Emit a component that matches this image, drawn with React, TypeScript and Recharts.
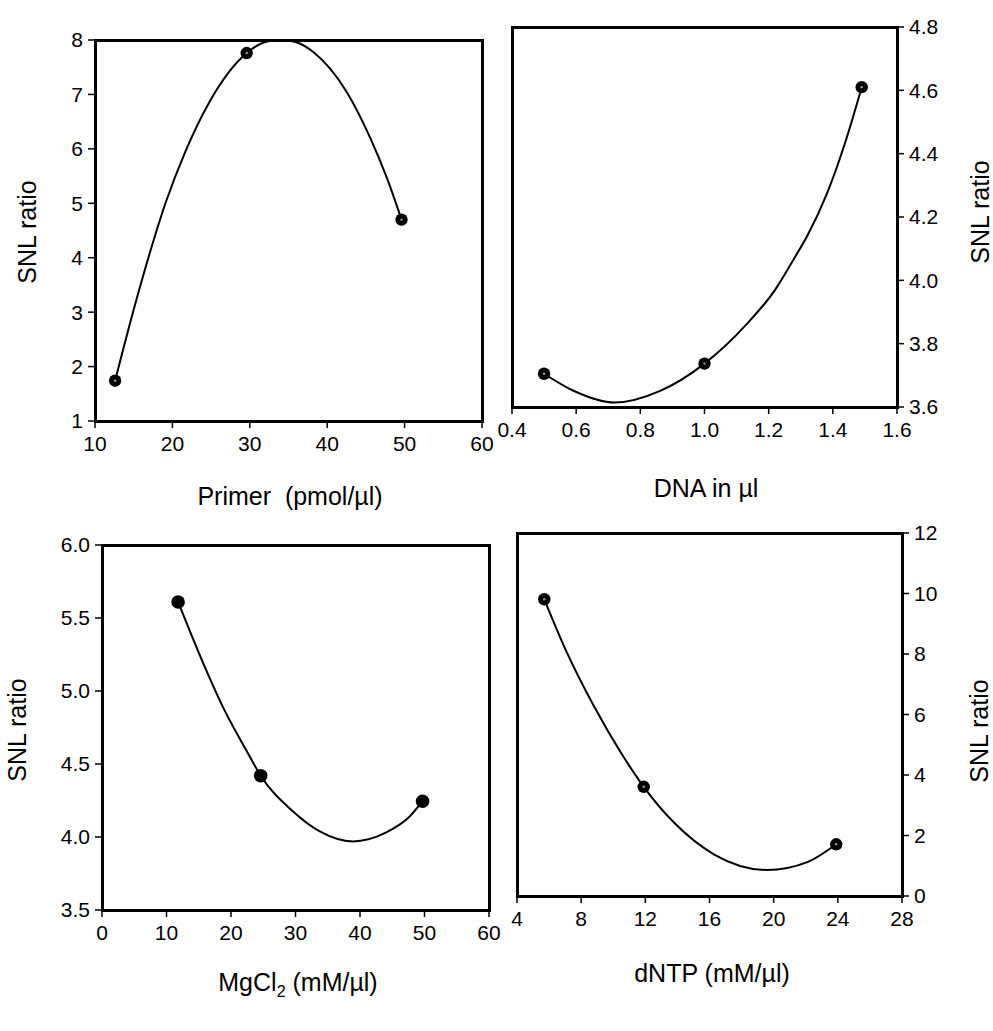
import React from 'react';
import { ComposedChart, Line, Scatter, XAxis, YAxis } from 'recharts';

// ---- Data ----
// Panel 1: Primer (pmol/µl)
const primerX = [12.6, 29.6, 49.6];
const primerY = [1.74, 7.76, 4.7];
const primerFitX = [12.6, 15.1, 16.9, 19.1, 21.7, 24.7, 29.6, 31.7, 33.9, 36.2, 38.2, 42.5, 45.5, 47.7, 49.6];
const primerFitY = [1.74, 3.1, 4.0, 5.0, 5.96, 6.84, 7.76, 7.95, 8.01, 7.95, 7.78, 7.05, 6.22, 5.47, 4.7];
const primerXTicks = [10, 20, 30, 40, 50, 60];
const primerYTicks = [1, 2, 3, 4, 5, 6, 7, 8];

// Panel 2: DNA in µl
const dnaX = [0.5, 1.0, 1.49];
const dnaY = [3.705, 3.737, 4.61];
const dnaFitX = [0.5, 0.59, 0.72, 0.86, 1.0, 1.13, 1.22, 1.28, 1.32, 1.38, 1.41, 1.44, 1.49];
const dnaFitY = [3.705, 3.652, 3.614, 3.65, 3.737, 3.86, 3.97, 4.07, 4.14, 4.27, 4.35, 4.44, 4.61];
const dnaXTicks = [0.4, 0.6, 0.8, 1.0, 1.2, 1.4, 1.6];
const dnaYTicks = [3.6, 3.8, 4.0, 4.2, 4.4, 4.6, 4.8];

// Panel 3: MgCl2 (mM/µl)
const mgX = [11.8, 24.6, 49.7];
const mgY = [5.61, 4.42, 4.245];
const mgFitX = [11.8, 15.6, 19.2, 22.3, 24.6, 29.5, 33.7, 38.9, 44.0, 47.7, 49.7];
const mgFitY = [5.61, 5.2, 4.85, 4.6, 4.42, 4.18, 4.04, 3.97, 4.03, 4.14, 4.245];
const mgXTicks = [0, 10, 20, 30, 40, 50, 60];
const mgYTicks = [3.5, 4.0, 4.5, 5.0, 5.5, 6.0];

// Panel 4: dNTP (mM/µl)
const dntpX = [5.7, 11.9, 23.9];
const dntpY = [9.81, 3.61, 1.71];
const dntpFitX = [5.7, 7.1, 8.8, 10.5, 11.9, 13.8, 16.3, 19.6, 22.1, 23.9];
const dntpFitY = [9.81, 8.06, 6.27, 4.72, 3.61, 2.42, 1.37, 0.86, 1.12, 1.71];
const dntpXTicks = [4, 8, 12, 16, 20, 24, 28];
const dntpYTicks = [0, 2, 4, 6, 8, 10, 12];

const FONT = '"Liberation Sans", Arial, Helvetica, sans-serif';

const zip = (xs: number[], ys: number[]) => xs.map((x, i) => ({ x, y: ys[i] }));

const RingDot = (props: any) => {
  const { cx, cy } = props;
  if (cx == null || cy == null) return null;
  return (
    <g>
      <circle cx={cx} cy={cy} r={6.2} fill="#000" />
      <circle cx={cx} cy={cy} r={1.2} fill="#999" />
    </g>
  );
};

const SolidDot = (props: any) => {
  const { cx, cy } = props;
  if (cx == null || cy == null) return null;
  return <circle cx={cx} cy={cy} r={6.8} fill="#000" />;
};

type PanelProps = {
  L: number; T: number; R: number; B: number;
  xDomain: [number, number]; yDomain: [number, number];
  xTicks: number[]; yTicks: number[];
  side: 'left' | 'right';
  points: { x: number; y: number }[];
  fit: { x: number; y: number }[];
  decimals: number;
  xDecimals: number;
  solid?: boolean;
};

function Panel(p: PanelProps) {
  const padL = 70, padR = 70, padT = 20, padB = 50;
  const W = p.R - p.L, H = p.B - p.T;
  const tickStyle = { fill: '#000', fontSize: 21, fontFamily: FONT };
  const bw = 3;
  return (
    <div style={{ position: 'absolute', left: p.L - padL, top: p.T - padT, width: W + padL + padR, height: H + padT + padB }}>
      <ComposedChart
        width={W + padL + padR}
        height={H + padT + padB}
        margin={{ top: padT, bottom: 0, left: p.side === 'left' ? 0 : padL, right: p.side === 'right' ? 0 : padR }}
      >
        <XAxis
          type="number"
          dataKey="x"
          domain={p.xDomain}
          ticks={p.xTicks}
          interval={0}
          allowDataOverflow
          height={padB}
          axisLine={false}
          tickLine={{ stroke: '#000', strokeWidth: 1.5 }}
          tickSize={7}
          tickMargin={8}
          tick={tickStyle}
          tickFormatter={(v: number) => v.toFixed(p.xDecimals)}
        />
        <YAxis
          type="number"
          dataKey="y"
          orientation={p.side}
          domain={p.yDomain}
          ticks={p.yTicks}
          interval={0}
          allowDataOverflow
          width={70}
          axisLine={false}
          tickLine={{ stroke: '#000', strokeWidth: 1.5 }}
          tickSize={7}
          tickMargin={5}
          tick={tickStyle}
          tickFormatter={(v: number) => v.toFixed(p.decimals)}
        />
        <Line
          data={p.fit}
          dataKey="y"
          type="monotone"
          dot={false}
          activeDot={false}
          stroke="#000"
          strokeWidth={2}
          isAnimationActive={false}
        />
        <Scatter
          data={p.points}
          dataKey="y"
          shape={p.solid ? SolidDot : RingDot}
          isAnimationActive={false}
        />
      </ComposedChart>
      <div
        style={{
          position: 'absolute',
          left: padL - bw / 2,
          top: padT - bw / 2,
          width: W + bw,
          height: H + bw,
          border: `${bw}px solid #000`,
          boxSizing: 'border-box',
          pointerEvents: 'none',
        }}
      />
    </div>
  );
}

const labelBase: React.CSSProperties = {
  position: 'absolute',
  fontFamily: FONT,
  fontSize: 25,
  color: '#000',
  whiteSpace: 'pre',
  lineHeight: 1,
};

function Label({ x, y, vertical, children }: { x: number; y: number; vertical?: boolean; children: React.ReactNode }) {
  return (
    <div
      style={{
        ...labelBase,
        left: x,
        top: y,
        transform: `translate(-50%, -50%)${vertical ? ' rotate(-90deg)' : ''}`,
      }}
    >
      {children}
    </div>
  );
}

export default function App() {
  return (
    <div style={{ position: 'absolute', left: 0, top: 0, width: 993, height: 1031, background: '#fff', overflow: 'hidden' }}>
      <Panel
        L={95} T={40} R={482} B={421}
        xDomain={[10, 60]} yDomain={[1, 8]}
        xTicks={primerXTicks} yTicks={primerYTicks}
        side="left"
        points={zip(primerX, primerY)}
        fit={zip(primerFitX, primerFitY)}
        decimals={0} xDecimals={0}
      />
      <Panel
        L={512} T={27} R={897} B={407}
        xDomain={[0.4, 1.6]} yDomain={[3.6, 4.8]}
        xTicks={dnaXTicks} yTicks={dnaYTicks}
        side="right"
        points={zip(dnaX, dnaY)}
        fit={zip(dnaFitX, dnaFitY)}
        decimals={1} xDecimals={1}
      />
      <Panel
        L={102} T={545} R={489} B={910}
        xDomain={[0, 60]} yDomain={[3.5, 6.0]}
        xTicks={mgXTicks} yTicks={mgYTicks}
        side="left"
        points={zip(mgX, mgY)}
        fit={zip(mgFitX, mgFitY)}
        decimals={1} xDecimals={0}
        solid
      />
      <Panel
        L={517} T={533} R={902} B={896}
        xDomain={[4, 28]} yDomain={[0, 12]}
        xTicks={dntpXTicks} yTicks={dntpYTicks}
        side="right"
        points={zip(dntpX, dntpY)}
        fit={zip(dntpFitX, dntpFitY)}
        decimals={0} xDecimals={0}
      />

      <Label x={27} y={232} vertical>SNL ratio</Label>
      <Label x={980} y={212} vertical>SNL ratio</Label>
      <Label x={17} y={730} vertical>SNL ratio</Label>
      <Label x={979} y={731} vertical>SNL ratio</Label>

      <Label x={290} y={496}>{'Primer  (pmol/µl)'}</Label>
      <Label x={706} y={488}>DNA in µl</Label>
      <Label x={298} y={982}>
        MgCl<sub style={{ fontSize: 16, verticalAlign: 'sub', lineHeight: 0 }}>2</sub> (mM/µl)
      </Label>
      <Label x={712} y={973}>dNTP (mM/µl)</Label>
    </div>
  );
}
